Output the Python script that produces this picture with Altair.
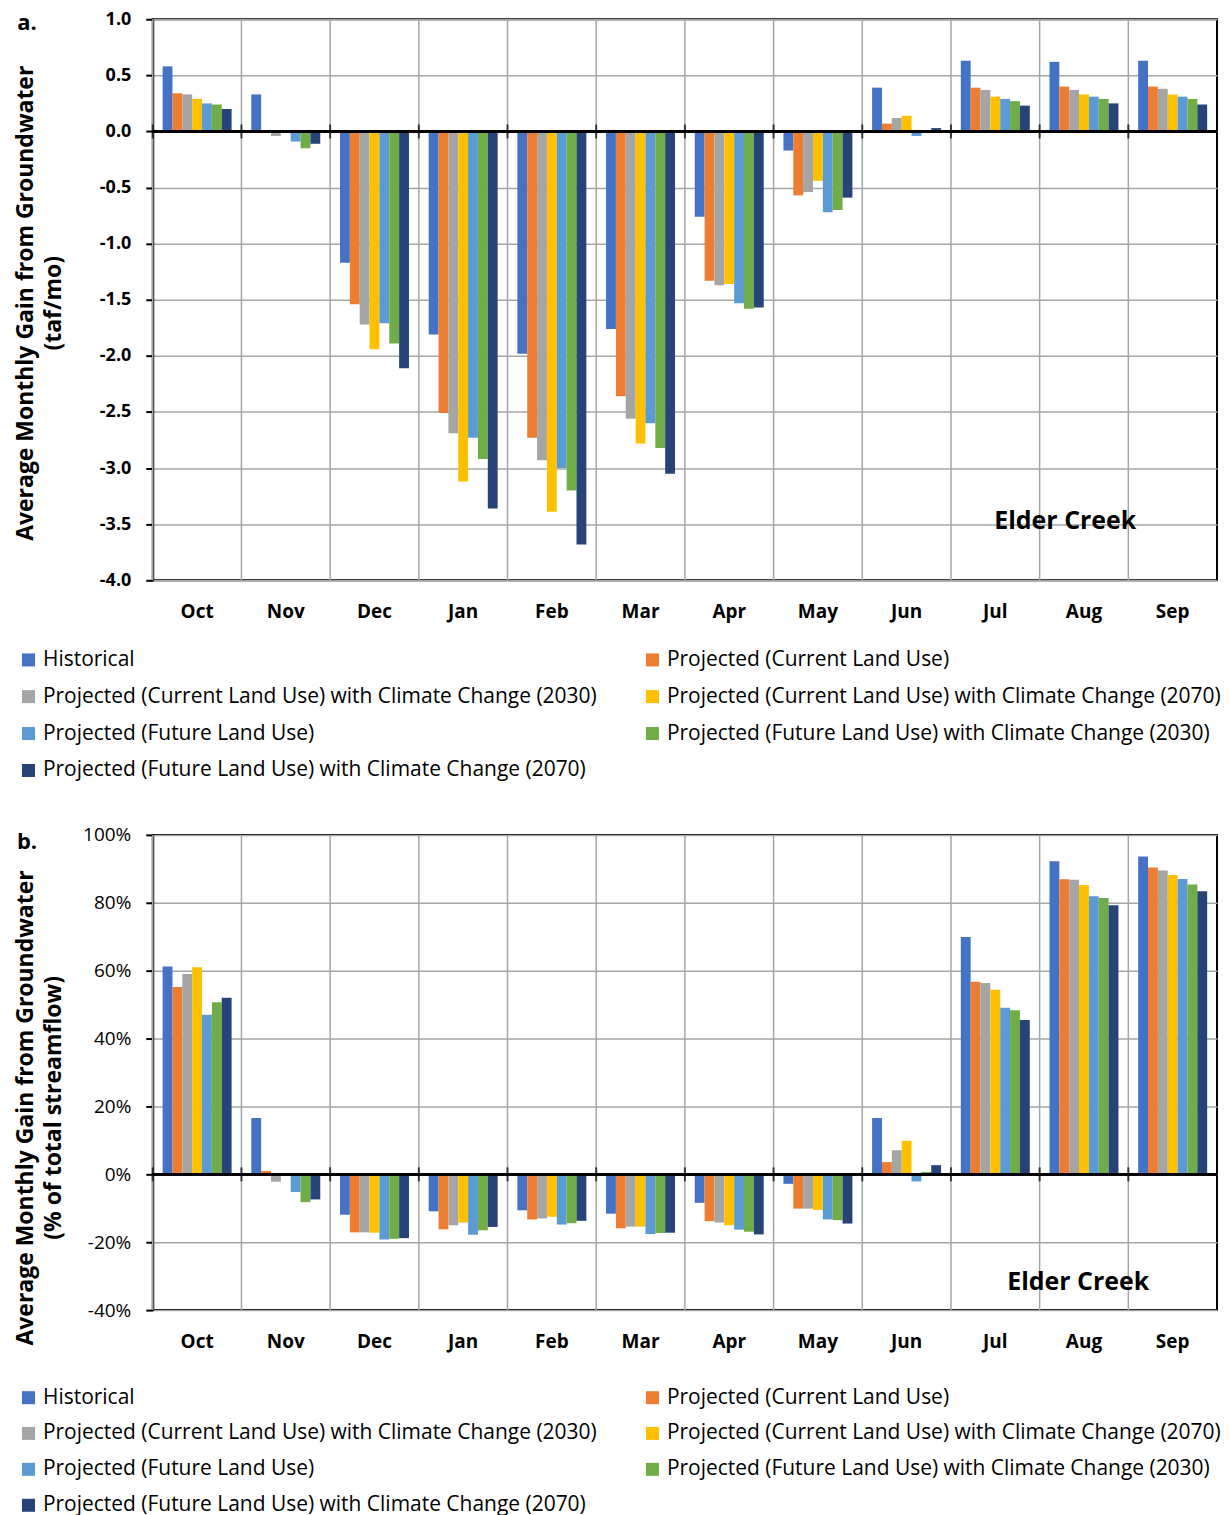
import altair as alt
import pandas as pd

FONT = "Open Sans"

months = ["Oct", "Nov", "Dec", "Jan", "Feb", "Mar", "Apr", "May", "Jun", "Jul", "Aug", "Sep"]
series_names = [
    "Historical",
    "Projected (Current Land Use)",
    "Projected (Current Land Use) with Climate Change (2030)",
    "Projected (Current Land Use) with Climate Change (2070)",
    "Projected (Future Land Use)",
    "Projected (Future Land Use) with Climate Change (2030)",
    "Projected (Future Land Use) with Climate Change (2070)",
]
colors = ["#4472C4", "#ED7D31", "#A5A5A5", "#FFC000", "#5B9BD5", "#70AD47", "#264478"]

# Panel a: average monthly gain from groundwater (taf/mo)
taf_historical = [0.58, 0.33, -1.17, -1.81, -1.98, -1.76, -0.76, -0.17, 0.39, 0.63, 0.62, 0.63]
taf_current = [0.34, 0.01, -1.54, -2.51, -2.73, -2.36, -1.33, -0.57, 0.07, 0.39, 0.40, 0.40]
taf_current_cc2030 = [0.33, -0.04, -1.72, -2.69, -2.93, -2.56, -1.37, -0.54, 0.12, 0.37, 0.37, 0.38]
taf_current_cc2070 = [0.29, 0.00, -1.94, -3.12, -3.39, -2.78, -1.36, -0.44, 0.14, 0.31, 0.33, 0.33]
taf_future = [0.25, -0.09, -1.71, -2.73, -3.00, -2.60, -1.53, -0.72, -0.04, 0.29, 0.31, 0.31]
taf_future_cc2030 = [0.24, -0.15, -1.89, -2.92, -3.20, -2.82, -1.58, -0.70, 0.01, 0.27, 0.29, 0.29]
taf_future_cc2070 = [0.20, -0.11, -2.11, -3.36, -3.68, -3.05, -1.57, -0.59, 0.03, 0.23, 0.25, 0.24]

# Panel b: average monthly gain from groundwater (% of total streamflow)
pct_historical = [61.2, 16.6, -11.9, -10.9, -10.6, -11.6, -8.4, -2.8, 16.6, 69.9, 92.2, 93.6]
pct_current = [55.2, 1.0, -17.1, -16.2, -13.3, -15.9, -13.8, -10.1, 3.6, 56.7, 86.9, 90.4]
pct_current_cc2030 = [59.0, -2.2, -17.1, -15.0, -13.0, -15.4, -14.2, -10.1, 7.1, 56.4, 86.8, 89.5]
pct_current_cc2070 = [61.0, 0.0, -17.2, -14.2, -12.5, -15.4, -15.0, -10.5, 9.9, 54.4, 85.2, 88.2]
pct_future = [47.0, -5.2, -19.2, -17.8, -14.8, -17.6, -16.3, -13.3, -2.1, 49.1, 81.9, 87.0]
pct_future_cc2030 = [50.7, -8.2, -19.0, -16.5, -14.4, -17.3, -16.9, -13.5, 0.7, 48.3, 81.4, 85.4]
pct_future_cc2070 = [52.0, -7.4, -18.8, -15.5, -13.7, -17.2, -17.7, -14.5, 2.7, 45.5, 79.3, 83.4]

taf_ticks = [-4.0, -3.5, -3.0, -2.5, -2.0, -1.5, -1.0, -0.5, 0.0, 0.5, 1.0]
pct_ticks = [-40, -20, 0, 20, 40, 60, 80, 100]

# legend fills column by column: this order puts the entries row by row as in the figure
legend_order = [0, 2, 4, 6, 1, 3, 5]
legend_domain = [series_names[i] for i in legend_order]
legend_range = [colors[i] for i in legend_order]


def long_df(cols):
    rows = []
    for name, vals in zip(series_names, cols):
        for m, v in zip(months, vals):
            rows.append({"month": m, "series": name, "value": v})
    return pd.DataFrame(rows)


df_a = long_df([taf_historical, taf_current, taf_current_cc2030, taf_current_cc2070,
                taf_future, taf_future_cc2030, taf_future_cc2070])
df_b = long_df([pct_historical, pct_current, pct_current_cc2030, pct_current_cc2070,
                pct_future, pct_future_cc2030, pct_future_cc2070])
month_df = pd.DataFrame({"month": months})

GRID = "#A6A6A6"


def panel(df, domain, ticks, label_expr, label_weight, label_size, title_lines, title_y,
          tag, tag_y, legend_y, row_pad, label_pad, creek_x, creek_y, height):
    xscale = alt.Scale(domain=months, paddingInner=0, paddingOuter=0)
    xaxis = alt.Axis(title=None, labelAngle=0, labelFont=FONT, labelFontSize=19,
                     labelFontWeight="bold", labelColor="black", labelPadding=label_pad,
                     ticks=False, tickSize=0, domain=False, grid=False)
    yscale = alt.Scale(domain=domain, nice=False, zero=False)
    yaxis = alt.Axis(values=ticks, labelExpr=label_expr, labelFont=FONT, labelFontSize=label_size,
                     labelFontWeight=label_weight, labelColor="black", labelPadding=15,
                     tickSize=7, tickColor="black", tickWidth=2,
                     domainColor="black", domainWidth=2,
                     grid=True, gridColor=GRID, gridWidth=1.5,
                     title=title_lines, titleFont=FONT, titleFontSize=23,
                     titleFontWeight="bold", titleColor="black", titleLineHeight=28,
                     titleAngle=270, titleAlign="center", titleBaseline="top",
                     titleX=-138, titleY=title_y)

    vgrid = alt.Chart(month_df).mark_rule(color=GRID, strokeWidth=1.5).encode(
        x=alt.X("month:N", bandPosition=0, scale=xscale, axis=xaxis),
    )
    bars = alt.Chart(df).mark_bar().encode(
        x=alt.X("month:N", scale=xscale, axis=xaxis),
        xOffset=alt.XOffset("series:N", sort=series_names,
                            scale=alt.Scale(paddingInner=0, paddingOuter=1)),
        y=alt.Y("value:Q", scale=yscale, axis=yaxis),
        color=alt.Color(
            "series:N",
            scale=alt.Scale(domain=legend_domain, range=legend_range),
            legend=alt.Legend(orient="none", legendX=-135, legendY=legend_y, columns=2,
                              title=None, columnPadding=44, rowPadding=row_pad, padding=0,
                              symbolType="square", symbolSize=170, symbolStrokeWidth=0,
                              labelFont=FONT, labelFontSize=21, labelColor="black",
                              labelLimit=1000, labelOffset=4),
        ),
    )
    zero = alt.Chart(month_df).mark_rule(color="black", strokeWidth=2).encode(
        y=alt.YDatum(0, scale=yscale, axis=yaxis),
    )
    xticks = alt.Chart(month_df).mark_tick(orient="vertical", size=14, thickness=2,
                                            color="black").encode(
        x=alt.X("month:N", bandPosition=0, scale=xscale, axis=xaxis),
        y=alt.YDatum(0, scale=yscale, axis=yaxis),
    )
    creek = alt.Chart(pd.DataFrame({"t": ["Elder Creek"]})).mark_text(
        font=FONT, fontSize=25, fontWeight="bold", color="black", align="center",
        baseline="middle").encode(text="t:N", x=alt.value(creek_x), y=alt.value(creek_y))
    tagm = alt.Chart(pd.DataFrame({"t": [tag]})).mark_text(
        font=FONT, fontSize=22, fontWeight="bold", color="black", align="center",
        baseline="middle").encode(text="t:N", x=alt.value(-126), y=alt.value(tag_y))
    return alt.layer(vgrid, bars, zero, xticks, creek, tagm).properties(width=1066, height=height)


label_a = ("datum.value < 0 ? '-' + format(-datum.value, '.1f') : format(datum.value, '.1f')")
label_b = ("datum.value < 0 ? '-' + format(-datum.value, 'd') + '%' : format(datum.value, 'd') + '%'")

chart_a = panel(df_a, [-4, 1], taf_ticks, label_a, "bold", 18,
                ["Average Monthly Gain from Groundwater", "(taf/mo)"], 284, "a.", 4,
                631, 15, 22, 914, 503, 562)
chart_b = panel(df_b, [-40, 100], pct_ticks, label_b, "normal", 19,
                ["Average Monthly Gain  from Groundwater", "(% of total streamflow)"], 273,
                "b.", 7, 553, 14, 22, 927, 448, 476)

chart = alt.vconcat(chart_a, chart_b, spacing=43).resolve_scale(
    color="independent", x="independent", y="independent"
).configure_view(stroke="black", strokeWidth=2).properties(
    padding={"left": 6, "top": 0, "right": 0, "bottom": 0}, background="white"
)

chart.save("out.html", embed_options={"renderer": "svg", "actions": False})
